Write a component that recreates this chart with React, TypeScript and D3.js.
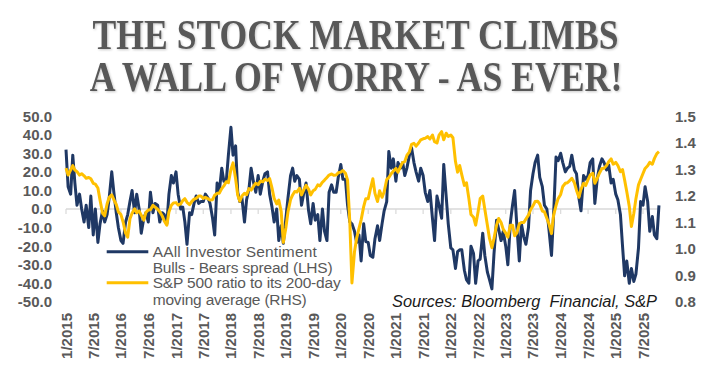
import React from "react";
import * as d3 from "d3";

// ---- Data (semi-monthly observations: 1st and 15th of each month, Jan 2015 -> Oct 2025) ----
const seriesStart = "2015-01-01";

// AAII Investor Sentiment, Bulls - Bears spread (LHS)
const aaiiSpread: number[] = [
  // 2015
  32, 12, 8, 29, 14, 2, 8, 0, -7, 2, -10, 7, -14, 0, -18, -8, -1, -7, -3, 6, 20, 9, -2, -10,
  // 2016
  -17, -18.5, -7, -3, 4, 10, -2, 8, 0, -13, -5, -2, -7, 9, -2, 3, 2, -7, -2, -3, -8, 8, 18, 14,
  // 2017
  20, 8, 0, 1, -7, -19, -2, -3, 3, 7, 3, 4, 4, 8, 6, 3, -5, -14, 14, 9, 22, 15, 15, 29,
  // 2018
  44, 29, 34, 9, 4, 6, -7, 5, 11, 22, 14, 9, 18, 8, 15, 19, 20, 8, 1, -7, 0, -17, -9, -18.5,
  // 2019
  -5, 6, 18, 22, 15, 18, 16, 2, 9, 14, -1, -8, 3, -6, -3, -17, 0, -12, -17, 9, 13, 9, 9, 17,
  // 2020
  24, 16, 16, 2, -7, -8, -12, -18, -14, -28, -8, -17.6, -18, -25, -26, -16, -9, -17, -8, -1, 4, 31, 22, 27,
  // 2021
  15, 25, 22, 25, 18, 22, 29, 33, 25, 20, 15, 22, 18, 9, 4, 10, -5, -17, 7, 2, -5, 24, 7, -8,
  // 2022
  -21, -22, -32, -23, -22, -22, -33, -38, -40, -20, -24, -40, -28, -27, -13, -25, -34, -38, -43, -24, -6, -11, -17, -12,
  // 2023
  -20, -30, -7, 2, 10, -8, -28, -8, -15, -19, -10, 10, 19, 25, 29, 17, 12, 2, 0, -11, -25, -3, 28, 26,
  // 2024
  30, 25, 20, 22, 23, 29, 21, 19, 6, -1, 18, 16, 18, 25, 27, 3, 17, 23, 27, 25, 21, 23.7, 14, 16,
  // 2025
  8, 5, -3, -20, -36, -28, -40, -32, -39, -35, -21, 4, 2, 12, 4, -12, -4, -14, -16, 2,
];

// S&P 500 ratio to its 200-day moving average (RHS)
const spxRatio: number[] = [
  // 2015
  1.305, 1.279, 1.298, 1.315, 1.298, 1.292, 1.279, 1.284, 1.276, 1.267, 1.27, 1.265, 1.248, 1.245, 1.23, 1.185, 1.135, 1.125, 1.17, 1.195, 1.204, 1.186, 1.168, 1.14,
  // 2016
  1.13, 1.103, 1.06, 1.045, 1.114, 1.135, 1.152, 1.137, 1.143, 1.128, 1.109, 1.138, 1.147, 1.148, 1.165, 1.158, 1.15, 1.141, 1.125, 1.106, 1.09, 1.14, 1.165, 1.174,
  // 2017
  1.175, 1.166, 1.17, 1.183, 1.19, 1.176, 1.167, 1.179, 1.188, 1.191, 1.2, 1.2, 1.191, 1.195, 1.19, 1.185, 1.186, 1.203, 1.21, 1.21, 1.228, 1.238, 1.254, 1.25,
  // 2018
  1.3, 1.325, 1.265, 1.204, 1.18, 1.2, 1.21, 1.205, 1.228, 1.222, 1.238, 1.248, 1.243, 1.256, 1.254, 1.263, 1.259, 1.266, 1.23, 1.191, 1.17, 1.185, 1.141, 1.025,
  // 2019
  1.08, 1.14, 1.186, 1.204, 1.217, 1.215, 1.229, 1.204, 1.225, 1.24, 1.225, 1.204, 1.22, 1.225, 1.242, 1.238, 1.252, 1.26, 1.27, 1.279, 1.283, 1.278, 1.279, 1.288,
  // 2020
  1.29, 1.296, 1.286, 1.26, 1.1, 0.872, 0.99, 1.04, 1.078, 1.11, 1.16, 1.19, 1.19, 1.225, 1.265, 1.21, 1.179, 1.22, 1.195, 1.215, 1.262, 1.27, 1.284, 1.294,
  // 2021
  1.304, 1.29, 1.312, 1.327, 1.33, 1.353, 1.367, 1.395, 1.399, 1.388, 1.4, 1.412, 1.416, 1.418, 1.424, 1.415, 1.43, 1.405, 1.4, 1.43, 1.443, 1.412, 1.437, 1.425,
  // 2022
  1.43, 1.42, 1.33, 1.29, 1.315, 1.28, 1.24, 1.25, 1.19, 1.13, 1.12, 1.09, 1.14, 1.19, 1.2, 1.15, 1.09, 1.04, 1.005, 1.04, 1.09, 1.115, 1.1, 1.075,
  // 2023
  1.06, 1.045, 1.09, 1.09, 1.05, 1.06, 1.095, 1.1, 1.1, 1.113, 1.128, 1.148, 1.163, 1.179, 1.18, 1.17, 1.143, 1.14, 1.116, 1.095, 1.058, 1.128, 1.164, 1.19,
  // 2024
  1.206, 1.236, 1.248, 1.25, 1.258, 1.267, 1.25, 1.222, 1.195, 1.225, 1.248, 1.24, 1.262, 1.279, 1.286, 1.248, 1.268, 1.287, 1.304, 1.305, 1.315, 1.329, 1.34, 1.32,
  // 2025
  1.327, 1.315, 1.292, 1.3, 1.26, 1.217, 1.16, 1.085, 1.135, 1.19, 1.242, 1.262, 1.285, 1.304, 1.314, 1.327, 1.32, 1.342, 1.36, 1.367,
];

const xTickLabels = [
  "1/2015", "7/2015", "1/2016", "7/2016", "1/2017", "7/2017", "1/2018", "7/2018",
  "1/2019", "7/2019", "1/2020", "7/2020", "1/2021", "7/2021", "1/2022", "7/2022",
  "1/2023", "7/2023", "1/2024", "7/2024", "1/2025", "7/2025",
];
const leftTicks = [50, 40, 30, 20, 10, 0, -10, -20, -30, -40, -50];
const rightTicks = [1.5, 1.4, 1.3, 1.2, 1.1, 1.0, 0.9, 0.8];

const titleLines = ["THE STOCK MARKET CLIMBS", "A WALL OF WORRY - AS EVER!"];
const legendBlue = ["AAll Investor Sentiment", "Bulls - Bears spread (LHS)"];
const legendYellow = ["S&P 500 ratio to its 200-day", "moving average (RHS)"];
const sourceText = "Sources: Bloomberg  Financial, S&P";

// ---- Styling ----
const W = 710;
const H = 377;
const BLUE = "#1f3864";
const GOLD = "#ffc000";
const GREY = "#595959";
const AXIS = "#d9d9d9";
const SANS = "'Liberation Sans', Arial, sans-serif";
const SERIF = "'Liberation Serif', 'Times New Roman', serif";

function obsDate(i: number): Date {
  const start = new Date(seriesStart + "T00:00:00");
  const year = start.getFullYear() + Math.floor(i / 24);
  const month = Math.floor((i % 24) / 2);
  return new Date(year, month, i % 2 ? 15 : 1);
}

function labelDate(s: string): Date {
  const [m, y] = s.split("/").map(Number);
  return new Date(y, m - 1, 1);
}

export default function App() {
  const x = d3
    .scaleTime()
    .domain([labelDate(xTickLabels[0]), labelDate(xTickLabels[xTickLabels.length - 1])])
    .range([66, 643]);
  const yL = d3.scaleLinear().domain([-50, 50]).range([301.85, 116.15]);
  const yR = d3.scaleLinear().domain([0.8, 1.5]).range([302, 116.5]);

  const blueLine = d3
    .line<number>()
    .x((_, i) => x(obsDate(i)))
    .y((d) => yL(d));
  const goldLine = d3
    .line<number>()
    .x((_, i) => x(obsDate(i)))
    .y((d) => yR(d));

  const lastX = x(obsDate(Math.max(aaiiSpread.length, spxRatio.length) - 1));
  const zeroY = yL(0);

  return (
    <svg
      width={W}
      height={H}
      viewBox={`0 0 ${W} ${H}`}
      style={{ position: "absolute", left: 0, top: 0, display: "block", background: "#fff" }}
    >
      <defs>
        <filter id="shadow" x="-10%" y="-40%" width="120%" height="180%">
          <feDropShadow dx="1" dy="1" stdDeviation="0.8" floodColor="#000" floodOpacity="0.22" />
        </filter>
      </defs>
      <rect width={W} height={H} fill="#fff" />

      {/* Title (condensed serif) */}
      <g filter="url(#shadow)" fill={GREY} fontFamily={SERIF} fontWeight="bold" fontSize={43}>
        <g transform="translate(355.5,49) scale(0.828,1)">
          <text x={0} y={0} textAnchor="middle">{titleLines[0]}</text>
        </g>
        <g transform="translate(356,91) scale(0.831,1)">
          <text x={0} y={0} textAnchor="middle">{titleLines[1]}</text>
        </g>
      </g>

      {/* Zero axis line and ticks */}
      <line x1={66} x2={lastX} y1={zeroY} y2={zeroY} stroke={AXIS} strokeWidth={1.5} />
      {xTickLabels.map((l) => (
        <line
          key={"t" + l}
          x1={x(labelDate(l))}
          x2={x(labelDate(l))}
          y1={zeroY}
          y2={zeroY + 5}
          stroke={AXIS}
          strokeWidth={1.2}
        />
      ))}

      {/* Series */}
      <path d={blueLine(aaiiSpread) || ""} fill="none" stroke={BLUE} strokeWidth={3} strokeLinejoin="round" />
      <path d={goldLine(spxRatio) || ""} fill="none" stroke={GOLD} strokeWidth={3} strokeLinejoin="round" />

      {/* Axis labels */}
      <g fontFamily={SANS} fontWeight="bold" fontSize={15} fill={GREY}>
        {leftTicks.map((v) => (
          <text key={"l" + v} x={52} y={yL(v)} dy="0.36em" textAnchor="end">
            {v.toFixed(1)}
          </text>
        ))}
        {rightTicks.map((v) => (
          <text key={"r" + v} x={675} y={yR(v)} dy="0.36em" textAnchor="start">
            {v.toFixed(1)}
          </text>
        ))}
        {xTickLabels.map((l) => (
          <text
            key={"x" + l}
            transform={`translate(${x(labelDate(l)) + 5.5},313) rotate(-90)`}
            textAnchor="end"
          >
            {l}
          </text>
        ))}
      </g>

      {/* Legend */}
      <g fontFamily={SANS} fontSize={15.5} fill={GREY}>
        <line x1={106.7} x2={148.3} y1={251.7} y2={251.7} stroke={BLUE} strokeWidth={3} />
        <text x={152.7} y={257} textLength={164} lengthAdjust="spacing">{legendBlue[0]}</text>
        <text x={152.7} y={273.3} textLength={180} lengthAdjust="spacing">{legendBlue[1]}</text>
        <line x1={106.7} x2={148.3} y1={282.7} y2={282.7} stroke={GOLD} strokeWidth={3} />
        <text x={152.7} y={288} textLength={188} lengthAdjust="spacing">{legendYellow[0]}</text>
        <text x={152.7} y={305.3} textLength={154} lengthAdjust="spacing">{legendYellow[1]}</text>
      </g>

      {/* Sources */}
      <text
        x={392}
        y={307}
        fontFamily={SANS}
        fontStyle="italic"
        fontSize={16}
        fill="#1a1a1a"
        style={{ whiteSpace: "pre" }}
        textLength={265}
        lengthAdjust="spacingAndGlyphs"
      >
        {sourceText}
      </text>
    </svg>
  );
}
